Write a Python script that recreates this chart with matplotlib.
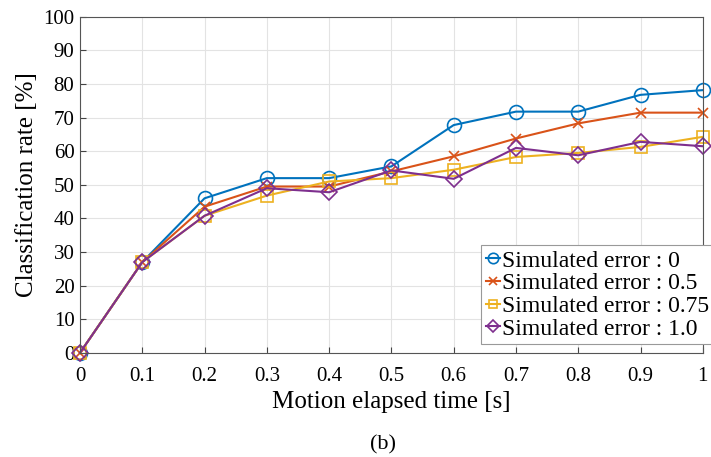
import matplotlib
matplotlib.use("Agg")
from matplotlib import pyplot as plt

plt.rcParams['font.family'] = ['Liberation Serif', 'DejaVu Serif']

times = [0, 0.1, 0.2, 0.3, 0.4, 0.5, 0.6, 0.7, 0.8, 0.9, 1.0]
err_0 = [0, 27, 46, 52, 52, 55.5, 67.8, 71.8, 71.8, 76.8, 78.2]
err_05 = [0, 27, 43.5, 49.5, 49.5, 54, 58.5, 63.8, 68.3, 71.5, 71.5]
err_075 = [0, 27, 40.8, 46.8, 51, 52, 54.5, 58.3, 59.5, 61.3, 64.3]
err_10 = [0, 27, 40.8, 49, 47.8, 54.3, 51.8, 61, 58.8, 62.8, 61.5]

labels = ["Simulated error : 0", "Simulated error : 0.5",
          "Simulated error : 0.75", "Simulated error : 1.0"]
colors = ["#0072BD", "#D95319", "#EDB120", "#7E2F8E"]
markers = ["o", "x", "s", "D"]
sizes = [10, 7, 8, 8]

fig = plt.figure(figsize=(7.11, 4.57), dpi=100)
ax = fig.add_axes([0.1125, 0.228, 0.876, 0.735])

for vals, lab, c, m, s in zip([err_0, err_05, err_075, err_10], labels, colors, markers, sizes):
    ax.plot(times, vals, color=c, marker=m, markersize=s, fillstyle='none',
            markeredgewidth=1.2, linewidth=1.5, label=lab, clip_on=False)

ax.set_xlim(0, 1)
ax.set_ylim(0, 100)
ax.set_xticks(times)
ax.set_xticklabels(["0", "0.1", "0.2", "0.3", "0.4", "0.5", "0.6", "0.7", "0.8", "0.9", "1"])
ax.set_yticks(range(0, 101, 10))
ax.grid(True, color="#e3e3e3", linewidth=0.8)
ax.tick_params(direction='in', labelsize=15, length=4, color="#444444")
ax.tick_params(axis='x', pad=10)
ax.tick_params(axis='y', pad=4)
for sp in ax.spines.values():
    sp.set_color("#555555")
    sp.set_linewidth(0.8)

ax.set_xlabel("Motion elapsed time [s]", fontsize=18, labelpad=4)
ax.set_ylabel("Classification rate [%]", fontsize=18, labelpad=4)

leg = ax.legend(loc='lower right', bbox_to_anchor=(1.018, 0.025), fontsize=17,
                handlelength=0.6, handletextpad=0.1, markerscale=0.75,
                borderpad=0.2, labelspacing=0.05, fancybox=False, framealpha=1,
                borderaxespad=0.0)
leg.get_frame().set_edgecolor("#999999")
leg.get_frame().set_linewidth(0.8)

fig.text(0.538, 0.026, "(b)", fontsize=16, ha='center', va='center')

plt.savefig("out.png", dpi=100)
